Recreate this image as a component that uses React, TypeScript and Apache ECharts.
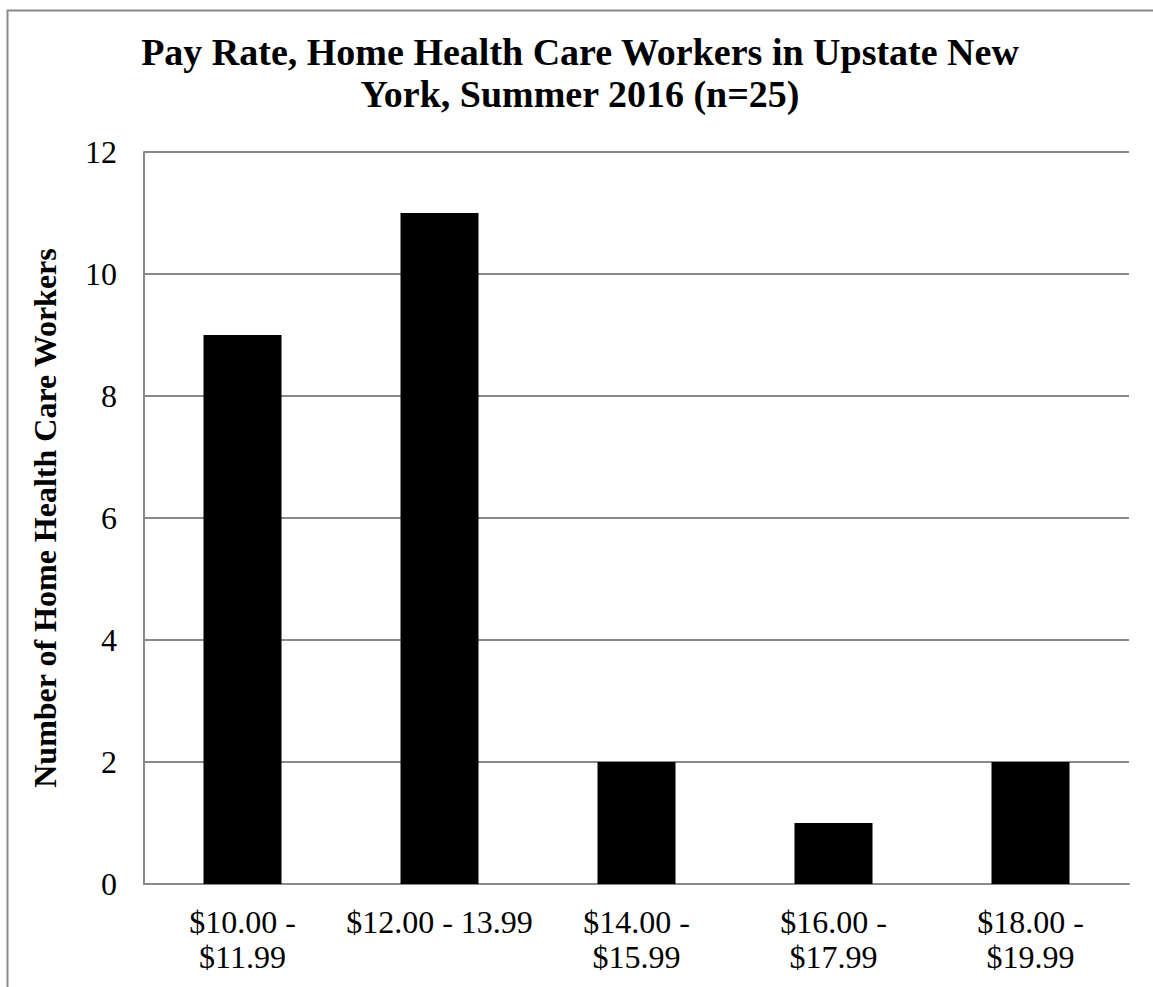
import React, { useEffect, useRef } from "react";
import * as echarts from "echarts";

const categories = [
  "$10.00 -\n$11.99",
  "$12.00 - 13.99",
  "$14.00 -\n$15.99",
  "$16.00 -\n$17.99",
  "$18.00 -\n$19.99",
];
const workerCounts = [9, 11, 2, 1, 2];
const titleText = "Pay Rate, Home Health Care Workers in Upstate New\nYork, Summer 2016 (n=25)";
const yAxisTitle = "Number of Home Health Care Workers";

const FONT = "Liberation Serif, serif";
const GRAY = "#898989";

export default function App() {
  const ref = useRef<HTMLDivElement>(null);
  useEffect(() => {
    if (!ref.current) return;
    const chart = echarts.init(ref.current, null, { renderer: "svg" });
    chart.setOption({
      animation: false,
      backgroundColor: "#ffffff",
      graphic: [
        {
          type: "rect",
          shape: { x: 7.5, y: 10.5, width: 1300, height: 1300 },
          style: { fill: "none", stroke: GRAY, lineWidth: 2 },
          silent: true,
        },
        {
          type: "text",
          x: 580,
          y: 31,
          style: {
            text: titleText,
            fontFamily: FONT,
            fontSize: 38,
            fontWeight: "bold",
            fill: "#000",
            align: "center",
            verticalAlign: "top",
            lineHeight: 42,
          },
        },
      ],
      grid: { left: 144, right: 24, top: 152, bottom: 103, containLabel: false },
      xAxis: {
        type: "category",
        data: categories,
        axisLine: { show: true, lineStyle: { color: GRAY, width: 2 } },
        axisTick: { show: false },
        axisLabel: {
          interval: 0,
          color: "#000",
          fontFamily: FONT,
          fontSize: 32,
          lineHeight: 35,
          margin: 20,
        },
      },
      yAxis: {
        type: "value",
        min: 0,
        max: 12,
        interval: 2,
        name: yAxisTitle,
        nameLocation: "middle",
        nameGap: 83,
        nameTextStyle: { fontFamily: FONT, fontSize: 32, fontWeight: "bold", color: "#000" },
        axisLine: { show: true, lineStyle: { color: GRAY, width: 2 } },
        axisTick: { show: false },
        axisLabel: { color: "#000", fontFamily: FONT, fontSize: 32, margin: 27 },
        splitLine: { show: true, lineStyle: { color: GRAY, width: 2 } },
      },
      series: [
        {
          type: "bar",
          data: workerCounts,
          barWidth: 78,
          itemStyle: { color: "#000" },
        },
      ],
    });
    return () => chart.dispose();
  }, []);
  return (
    <div
      ref={ref}
      style={{ position: "fixed", left: 0, top: 0, width: 1153, height: 987, background: "#fff" }}
    />
  );
}
